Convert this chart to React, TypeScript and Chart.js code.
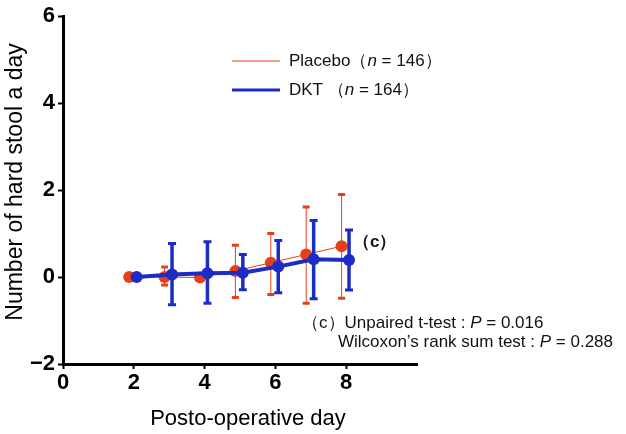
import React, { useEffect, useRef } from "react";
import { Chart, registerables } from "chart.js";

Chart.register(...registerables);

const days = [2, 3, 4, 5, 6, 7, 8];
const placeboMean = [0, 0.0, -0.01, 0.14, 0.33, 0.52, 0.71];
const placeboUpper = [null, 0.23, null, 0.73, 1.0, 1.61, 1.9];
const placeboLower = [null, -0.18, null, -0.47, -0.4, -0.6, -0.49];
const dktMean = [0, 0.06, 0.09, 0.1, 0.24, 0.41, 0.39];
const dktUpper = [null, 0.77, 0.81, 0.52, 0.84, 1.3, 1.08];
const dktLower = [null, -0.64, -0.6, -0.29, -0.36, -0.5, -0.3];
const xTicks = [0, 2, 4, 6, 8];
const yTicks = [-2, 0, 2, 4, 6];

const RED = "#e6401a";
const BLUE = "#1d2cc4";
const FONT = "'Liberation Sans', Arial, sans-serif";

type Seg = { t: string; i?: boolean; b?: boolean };

function drawSegs(ctx: CanvasRenderingContext2D, segs: Seg[], x: number, y: number, size: number, align: "left" | "right") {
  const fontOf = (s: Seg) => `${s.i ? "italic " : ""}${s.b ? "bold " : ""}${size}px ${FONT}`;
  let total = 0;
  for (const s of segs) {
    ctx.font = fontOf(s);
    total += ctx.measureText(s.t).width;
  }
  let cx = align === "left" ? x : x - total;
  ctx.textAlign = "left";
  ctx.textBaseline = "middle";
  for (const s of segs) {
    ctx.font = fontOf(s);
    ctx.fillText(s.t, cx, y);
    cx += ctx.measureText(s.t).width;
  }
}

const errorBars = {
  id: "errorBars",
  afterDatasetDraw(chart: any, args: any) {
    const ds = chart.data.datasets[args.index];
    const eb = ds.errorBars;
    if (!eb) return;
    const ctx = chart.ctx;
    const xs = chart.scales.x;
    const ys = chart.scales.y;
    ctx.save();
    ctx.strokeStyle = ds.borderColor;
    ds.data.forEach((p: any, i: number) => {
      const up = eb.upper[i];
      const lo = eb.lower[i];
      if (up == null || lo == null) return;
      const px = xs.getPixelForValue(p.x);
      const pu = ys.getPixelForValue(up);
      const pl = ys.getPixelForValue(lo);
      ctx.lineWidth = eb.width;
      ctx.beginPath();
      ctx.moveTo(px, pu);
      ctx.lineTo(px, pl);
      ctx.stroke();
      ctx.lineWidth = 3;
      ctx.beginPath();
      ctx.moveTo(px - eb.cap / 2, pu);
      ctx.lineTo(px + eb.cap / 2, pu);
      ctx.moveTo(px - eb.cap / 2, pl);
      ctx.lineTo(px + eb.cap / 2, pl);
      ctx.stroke();
    });
    ctx.restore();
  },
};

const annotations = {
  id: "annotations",
  afterDraw(chart: any) {
    const ctx = chart.ctx;
    ctx.save();
    ctx.fillStyle = "#000";
    // axis titles
    ctx.font = `22px ${FONT}`;
    ctx.textAlign = "center";
    ctx.textBaseline = "middle";
    ctx.fillText("Posto-operative day", 248, 419);
    ctx.save();
    ctx.translate(16, 182);
    ctx.rotate(-Math.PI / 2);
    ctx.font = `23px ${FONT}`;
    ctx.fillText("Number of hard stool a day", 0, 0);
    ctx.restore();
    // legend
    ctx.strokeStyle = RED;
    ctx.lineWidth = 1;
    ctx.beginPath();
    ctx.moveTo(232, 61);
    ctx.lineTo(280, 61);
    ctx.stroke();
    ctx.strokeStyle = BLUE;
    ctx.lineWidth = 3;
    ctx.beginPath();
    ctx.moveTo(232, 90);
    ctx.lineTo(280, 90);
    ctx.stroke();
    ctx.fillStyle = "#111";
    drawSegs(ctx, [{ t: "Placebo（" }, { t: "n", i: true }, { t: " = 146）" }], 289, 61, 17, "left");
    drawSegs(ctx, [{ t: "DKT （" }, { t: "n", i: true }, { t: " = 164）" }], 289, 90, 17, "left");
    // (c) marker
    drawSegs(ctx, [{ t: "（c）", b: true }], 353, 242, 17, "left");
    // stats
    drawSegs(ctx, [{ t: "（c）Unpaired t-test : " }, { t: "P", i: true }, { t: " = 0.016" }], 302, 323, 17, "left");
    drawSegs(ctx, [{ t: "Wilcoxon’s rank sum test : " }, { t: "P", i: true }, { t: " = 0.288" }], 613, 342, 17, "right");
    ctx.restore();
  },
};

export default function App() {
  const ref = useRef<HTMLCanvasElement>(null);
  useEffect(() => {
    if (!ref.current) return;
    const chart = new Chart(ref.current, {
      type: "line",
      data: {
        datasets: [
          {
            label: "DKT",
            data: days.map((d, i) => ({ x: d + 0.08, y: dktMean[i] })),
            borderColor: BLUE,
            backgroundColor: BLUE,
            borderWidth: 4,
            pointRadius: 6,
            pointBorderWidth: 0,
            order: 0,
            errorBars: { upper: dktUpper, lower: dktLower, width: 3.5, cap: 8 },
          } as any,
          {
            label: "Placebo",
            data: days.map((d, i) => ({ x: d - 0.13, y: placeboMean[i] })),
            borderColor: RED,
            backgroundColor: RED,
            borderWidth: 1,
            pointRadius: 6,
            pointBorderWidth: 0,
            order: 1,
            errorBars: { upper: placeboUpper, lower: placeboLower, width: 1, cap: 7 },
          } as any,
        ],
      },
      options: {
        responsive: false,
        animation: false,
        layout: { padding: { top: 13, right: 209, left: 0, bottom: 0 } },
        plugins: { legend: { display: false }, tooltip: { enabled: false } },
        scales: {
          x: {
            type: "linear",
            min: 0,
            max: 10,
            afterFit: (s: any) => { s.height = 70; },
            afterBuildTicks: (s: any) => { s.ticks = xTicks.map((v) => ({ value: v })); },
            ticks: {
              color: "#000",
              padding: 1,
              font: { family: FONT, size: 22, weight: "bold" },
              callback: (v: any) => String(v),
            },
            grid: { drawOnChartArea: false, drawTicks: true, tickLength: 5, tickWidth: 2, tickColor: "#000" },
            border: { display: true, color: "#000", width: 3 },
          },
          y: {
            type: "linear",
            min: -2,
            max: 6,
            afterFit: (s: any) => { s.width = 63; },
            afterBuildTicks: (s: any) => { s.ticks = yTicks.map((v) => ({ value: v })); },
            ticks: {
              color: "#000",
              padding: 3,
              font: { family: FONT, size: 22, weight: "bold" },
              callback: (v: any) => (v < 0 ? "−" + Math.abs(v) : String(v)),
            },
            grid: { drawOnChartArea: false, drawTicks: true, tickLength: 5, tickWidth: 2, tickColor: "#000" },
            border: { display: true, color: "#000", width: 3 },
          },
        },
      },
      plugins: [errorBars, annotations],
    });
    return () => chart.destroy();
  }, []);
  return (
    <div style={{ position: "absolute", left: 0, top: 0, width: 626, height: 434, background: "#fff" }}>
      <canvas ref={ref} width={626} height={434} />
    </div>
  );
}
